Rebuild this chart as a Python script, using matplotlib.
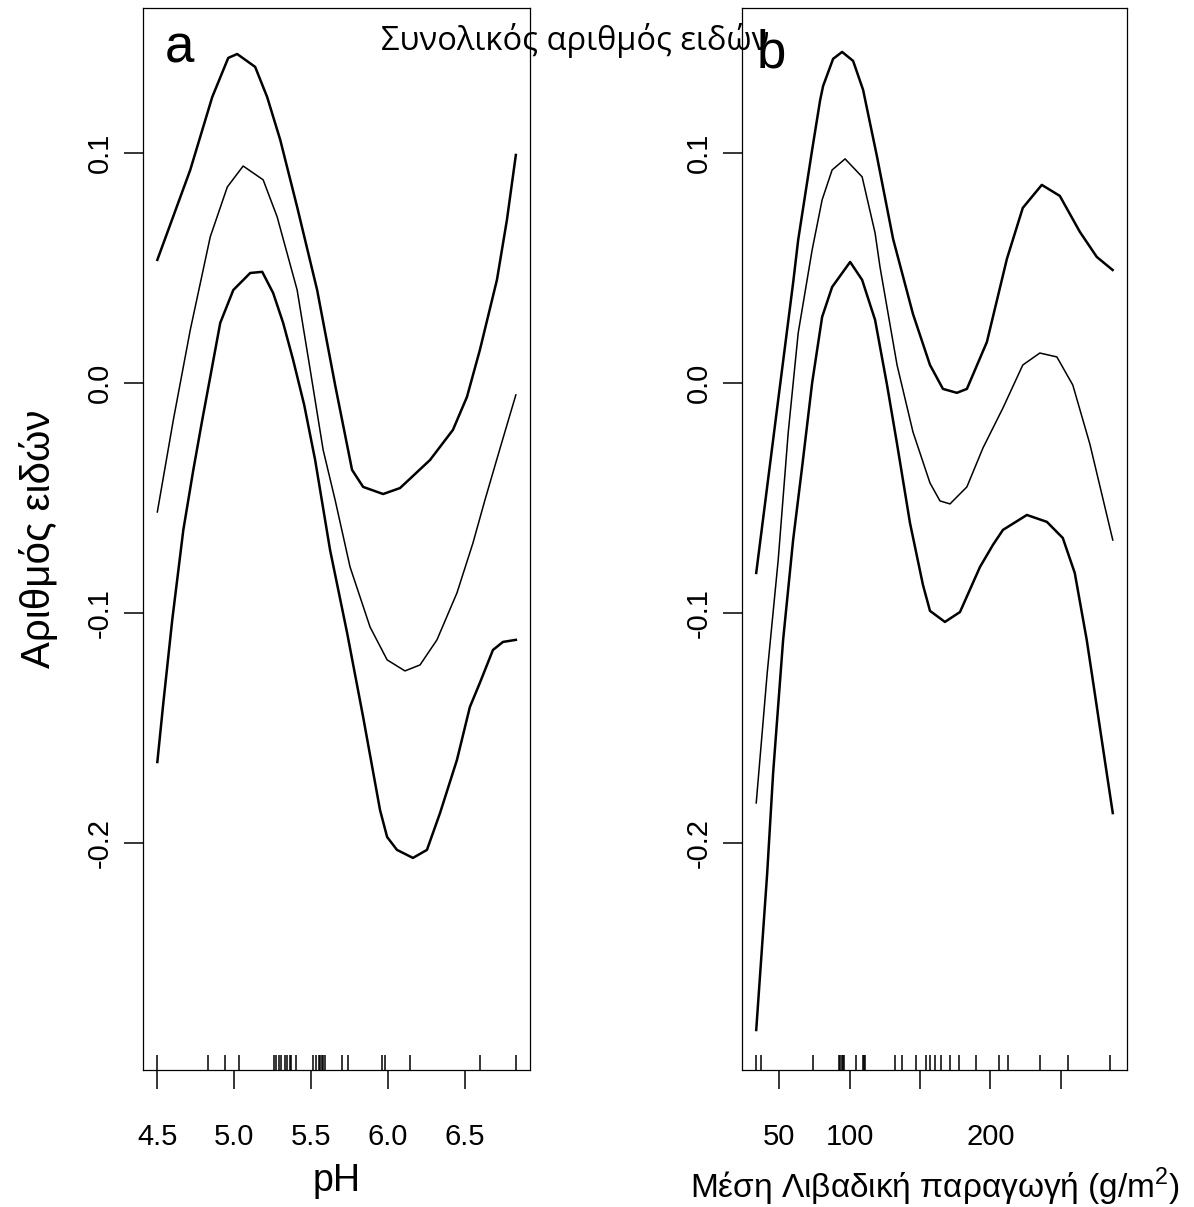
import numpy as np
import matplotlib.pyplot as plt

plt.rcParams['mathtext.fontset'] = 'custom'
plt.rcParams['mathtext.rm'] = 'Liberation Sans'

# --- pH (panel a) ---
ph_upper_x = [4.500, 4.714, 4.857, 4.961, 5.019, 5.136, 5.214, 5.299, 5.409, 5.539, 5.656, 5.766,
              5.838, 5.968, 6.078, 6.273, 6.422, 6.513, 6.597, 6.708, 6.773, 6.831]
ph_upper_y = [0.0535, 0.0926, 0.1243, 0.1413, 0.1430, 0.1374, 0.1243, 0.1057, 0.0765, 0.0404, -0.0009, -0.0378,
              -0.0452, -0.0483, -0.0457, -0.0335, -0.0204, -0.0061, 0.0143, 0.0448, 0.0709, 0.0991]

ph_fit_x = [4.500, 4.604, 4.714, 4.844, 4.955, 5.058, 5.188, 5.279, 5.409, 5.494, 5.578, 5.656,
            5.753, 5.883, 5.994, 6.110, 6.208, 6.318, 6.448, 6.552, 6.630, 6.727, 6.831]
ph_fit_y = [-0.0561, -0.0161, 0.0230, 0.0635, 0.0852, 0.0943, 0.0883, 0.0722, 0.0404, 0.0057, -0.0291, -0.0509,
            -0.0800, -0.1061, -0.1204, -0.1252, -0.1226, -0.1117, -0.0913, -0.0696, -0.0509, -0.0287, -0.0052]

ph_lower_x = [4.500, 4.539, 4.597, 4.669, 4.734, 4.792, 4.844, 4.909, 4.994, 5.104, 5.182, 5.253,
              5.318, 5.383, 5.455, 5.526, 5.623, 5.734, 5.838, 5.948, 5.994, 6.058, 6.162, 6.253,
              6.338, 6.448, 6.532, 6.597, 6.682, 6.747, 6.831]
ph_lower_y = [-0.1648, -0.1391, -0.1030, -0.0639, -0.0378, -0.0161, 0.0026, 0.0261, 0.0404, 0.0478, 0.0483, 0.0391,
              0.0261, 0.0100, -0.0096, -0.0335, -0.0726, -0.1087, -0.1452, -0.1857, -0.1974, -0.2030, -0.2065, -0.2030,
              -0.1870, -0.1639, -0.1409, -0.1304, -0.1161, -0.1126, -0.1117]

ph_rug = [4.50, 4.83, 4.94, 5.03, 5.26, 5.27, 5.29, 5.305, 5.33, 5.34, 5.36, 5.37, 5.40,
          5.51, 5.53, 5.55, 5.56, 5.57, 5.58, 5.59, 5.70, 5.74, 5.96, 5.98, 6.14, 6.60, 6.83]

# --- Μέση Λιβαδική παραγωγή (panel b) ---
prod_upper_x = [33.7, 49.3, 59.9, 63.5, 73.4, 79.1, 81.2, 88.3, 94.7, 102.5, 109.6, 119.5, 130.9,
                145.0, 157.1, 166.3, 176.2, 183.3, 197.5, 211.7, 223.0, 236.5, 249.3, 263.5, 275.5, 286.8]
prod_upper_y = [-0.0826, -0.0074, 0.0435, 0.0622, 0.1013, 0.1230, 0.1291, 0.1409, 0.1439, 0.1400, 0.1274, 0.0983, 0.0626,
                0.0300, 0.0078, -0.0026, -0.0043, -0.0026, 0.0178, 0.0539, 0.0761, 0.0861, 0.0813, 0.0657, 0.0548, 0.0491]

prod_fit_x = [33.7, 41.5, 49.3, 56.4, 63.5, 73.4, 80.5, 87.6, 96.8, 108.9, 118.1, 121.6, 133.7,
              145.0, 157.1, 164.2, 171.3, 183.3, 194.7, 208.9, 223.0, 235.1, 247.2, 258.5, 270.6, 286.9]
prod_fit_y = [-0.1826, -0.1261, -0.0770, -0.0217, 0.0217, 0.0578, 0.0796, 0.0926, 0.0974, 0.0896, 0.0652, 0.0504, 0.0078,
              -0.0213, -0.0435, -0.0513, -0.0526, -0.0452, -0.0283, -0.0109, 0.0078, 0.0130, 0.0113, -0.0009, -0.0265, -0.0683]

prod_lower_x = [33.7, 41.5, 45.7, 52.8, 59.9, 66.3, 73.4, 80.5, 87.6, 100.4, 108.9, 118.1, 126.6,
                133.7, 142.9, 152.1, 157.1, 167.7, 178.4, 192.6, 201.8, 208.9, 225.9, 240.1, 251.4,
                259.9, 268.4, 272.7, 277.7, 282.6, 286.9]
prod_lower_y = [-0.2813, -0.2130, -0.1696, -0.1117, -0.0683, -0.0365, 0.0000, 0.0287, 0.0417, 0.0526, 0.0448, 0.0274, -0.0009,
                -0.0265, -0.0609, -0.0878, -0.0991, -0.1039, -0.0996, -0.0800, -0.0704, -0.0639, -0.0574, -0.0604, -0.0674,
                -0.0826, -0.1117, -0.1291, -0.1496, -0.1696, -0.1870]

prod_rug = [33.8, 37.1, 73.7, 92.5, 93.4, 94.4, 95.3, 96.2, 104.7, 109.4, 110.3, 111.3, 132.4, 137.1,
            147.4, 154.5, 157.3, 160.6, 165.0, 171.6, 177.5, 189.9, 206.1, 212.2, 235.0, 254.9, 285.0]

y_ticks = [-0.2, -0.1, 0.0, 0.1]
y_labels = ['-0.2', '-0.1', '0.0', '0.1']

font = 'Liberation Sans'

fig = plt.figure(figsize=(11.94, 12.07), dpi=100)
ax1 = fig.add_axes([143/1194, 1-1070/1207, 387/1194, 1062/1207])
ax2 = fig.add_axes([742/1194, 1-1070/1207, 385/1194, 1062/1207])


def pannello(ax, xu, yu, xf, yf, xl, yl, rug):
    ax.plot(xu, yu, color='black', lw=1.8, solid_joinstyle='round')
    ax.plot(xf, yf, color='black', lw=1.1, solid_joinstyle='round')
    ax.plot(xl, yl, color='black', lw=1.8, solid_joinstyle='round')
    # rug στον άξονα x
    ax.vlines(rug, 0, 0.014, color='black', lw=1.1, transform=ax.get_xaxis_transform())
    ax.set_ylim(-0.2987, 0.163)
    ax.set_yticks(y_ticks)
    ax.set_yticklabels(y_labels, rotation=90, va='center', family=font, fontsize=21)
    ax.tick_params(direction='out', length=14, width=1.1, pad=7)
    ax.tick_params(axis='x', pad=24)
    for s in ax.spines.values():
        s.set_linewidth(0.9)


pannello(ax1, ph_upper_x, ph_upper_y, ph_fit_x, ph_fit_y, ph_lower_x, ph_lower_y, ph_rug)
ax1.set_xlim(4.4068, 6.923)
ax1.set_xticks([4.5, 5.0, 5.5, 6.0, 6.5])
ax1.set_xticklabels(['4.5', '5.0', '5.5', '6.0', '6.5'], family=font, fontsize=21)
ax1.set_xlabel('pH', family=font, fontsize=27, labelpad=9)
ax1.set_ylabel('Αριθμός ειδών', family=font, fontsize=29, labelpad=20)
ax1.text(0.095, 0.962, 'a', transform=ax1.transAxes, fontsize=38, family=font,
         ha='center', va='center')

pannello(ax2, prod_upper_x, prod_upper_y, prod_fit_x, prod_fit_y, prod_lower_x, prod_lower_y, prod_rug)
ax2.set_xlim(23.6, 297.0)
ax2.set_xticks([50, 100, 150, 200, 250])
ax2.set_xticklabels(['50', '100', '', '200', ''], family=font, fontsize=21)
ax2.set_xlabel(r'Μέση Λιβαδική παραγωγή (g/m$^{\mathrm{2}}$)', family=font, fontsize=24, labelpad=11)
ax2.text(0.075, 0.957, 'b', transform=ax2.transAxes, fontsize=38, family=font,
         ha='center', va='center')

fig.text(575/1194, 1-50/1207, 'Συνολικός αριθμός ειδών', fontsize=23.5, family='Open Sans',
         ha='center', va='baseline')

fig.savefig('out.png', dpi=100)
